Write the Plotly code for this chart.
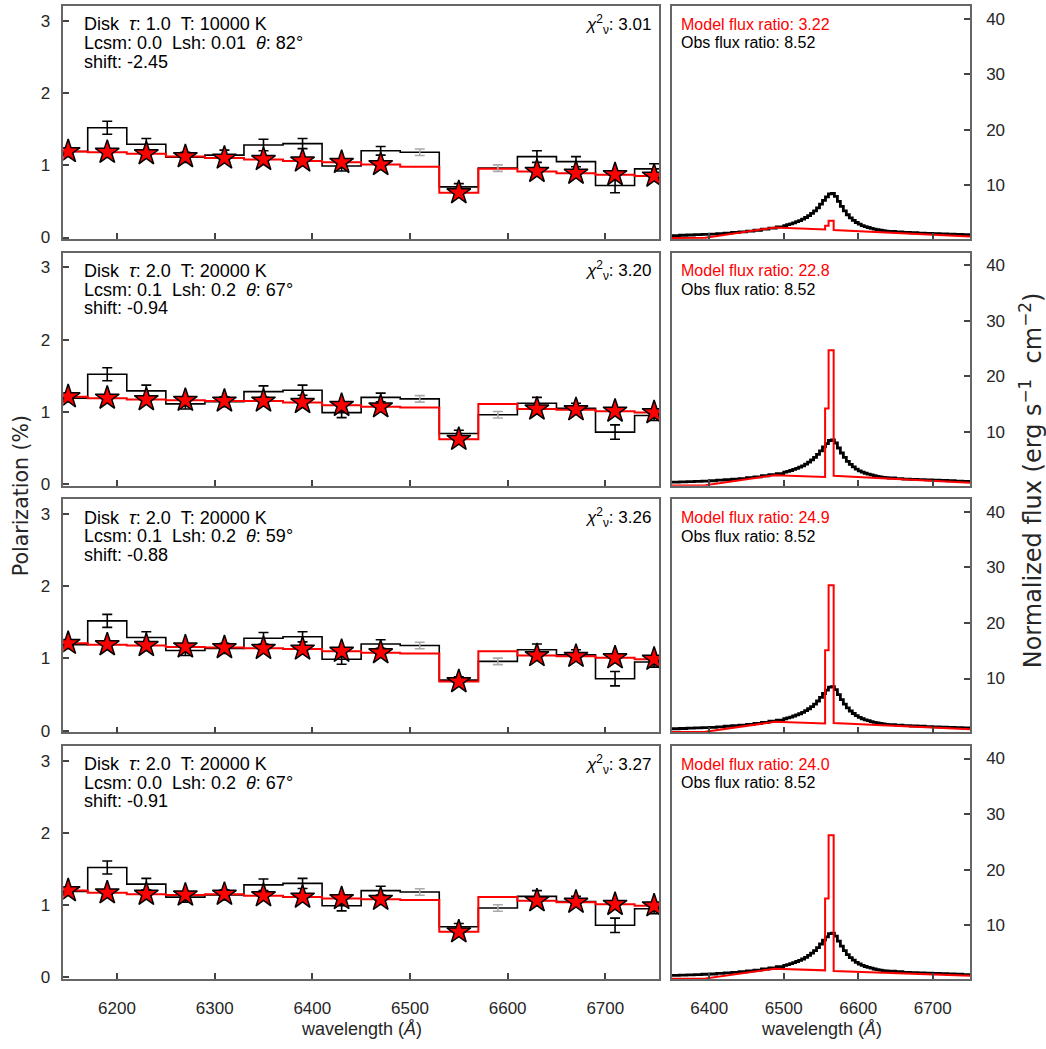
import plotly.graph_objects as go

W, H = 1046, 1049

# ---------------- data ----------------
pol_wl = [6150, 6190, 6230, 6270, 6310, 6350, 6390, 6430, 6470, 6510, 6550, 6590, 6630, 6670, 6710, 6750]
obs_pol = [1.19, 1.52, 1.29, 1.11, 1.14, 1.28, 1.30, 0.99, 1.20, 1.18, 0.70, 0.96, 1.12, 1.05, 0.72, 0.95]
obs_err = [0.05, 0.09, 0.08, 0.07, 0.07, 0.08, 0.07, 0.07, 0.06, 0.045, 0.045, 0.045, 0.08, 0.07, 0.10, 0.07]
excluded_wl = [6510, 6590]

model_pol = [
    [1.19, 1.18, 1.16, 1.12, 1.10, 1.08, 1.06, 1.04, 1.01, 0.98, 0.62, 0.95, 0.915, 0.89, 0.87, 0.85],
    [1.21, 1.19, 1.17, 1.16, 1.15, 1.15, 1.13, 1.09, 1.07, 1.06, 0.62, 1.11, 1.04, 1.03, 1.01, 0.99],
    [1.21, 1.19, 1.18, 1.16, 1.15, 1.14, 1.13, 1.10, 1.08, 1.07, 0.68, 1.10, 1.04, 1.03, 1.01, 0.99],
    [1.20, 1.17, 1.15, 1.14, 1.15, 1.13, 1.11, 1.09, 1.08, 1.07, 0.63, 1.11, 1.06, 1.04, 1.01, 0.99],
]

obs_flux_wl = [6350, 6360, 6370, 6380, 6390, 6400, 6410, 6420, 6430, 6440, 6450, 6460, 6470, 6480, 6490,
               6500, 6504, 6508, 6512, 6516, 6520, 6524, 6528, 6532, 6536, 6540, 6544, 6548, 6552, 6556,
               6560, 6564, 6568, 6572, 6576, 6580, 6584, 6588, 6592, 6596, 6600, 6604, 6608, 6612, 6616,
               6620, 6624, 6628, 6632, 6636, 6640, 6650, 6660, 6670, 6680, 6690, 6700, 6710, 6720, 6730,
               6740, 6750]
obs_flux = [0.95, 1.0, 1.05, 1.1, 1.15, 1.2, 1.3, 1.4, 1.5, 1.6, 1.75, 1.9, 2.1, 2.3, 2.5,
            2.75, 2.9, 3.05, 3.25, 3.45, 3.65, 3.9, 4.2, 4.55, 4.95, 5.4, 5.95, 6.6, 7.3, 7.9,
            8.45, 8.55, 8.0, 7.1, 6.2, 5.4, 4.7, 4.15, 3.7, 3.3, 3.0, 2.75, 2.55, 2.4, 2.25,
            2.1, 2.0, 1.9, 1.82, 1.75, 1.7, 1.6, 1.5, 1.45, 1.4, 1.35, 1.3, 1.25, 1.2, 1.15,
            1.1, 1.05]

model_flux_wl = [6350, 6395, 6488, 6555.5, 6555.5, 6560.2, 6560.2, 6567, 6567, 6750]
model_flux = [
    [0.5, 0.55, 2.4, 2.05, 2.7, 2.7, 3.6, 3.6, 1.95, 0.8],
    [0.35, 0.4, 2.2, 1.9, 14.2, 14.2, 24.7, 24.7, 2.1, 0.85],
    [0.35, 0.4, 2.2, 1.9, 15.1, 15.1, 26.8, 26.8, 2.0, 0.85],
    [0.35, 0.4, 2.15, 1.85, 14.8, 14.8, 26.2, 26.2, 1.75, 0.9],
]

panel_tau = ["1.0", "2.0", "2.0", "2.0"]
panel_T = ["10000", "20000", "20000", "20000"]
panel_lcsm = ["0.0", "0.1", "0.1", "0.0"]
panel_lsh = ["0.01", "0.2", "0.2", "0.2"]
panel_theta = ["82", "67", "59", "67"]
panel_shift = ["-2.45", "-0.94", "-0.88", "-0.91"]
panel_chi2 = ["3.01", "3.20", "3.26", "3.27"]
model_ratio = ["3.22", "22.8", "24.9", "24.0"]
obs_ratio = ["8.52", "8.52", "8.52", "8.52"]

pol_ticks = [6200, 6300, 6400, 6500, 6600, 6700]
flux_ticks = [6400, 6500, 6600, 6700]
pol_yticks = [0, 1, 2, 3]
flux_yticks = [10, 20, 30, 40]

# ---------------- layout geometry (pixels) ----------------
L_LEFT, L_RIGHT = 63.3, 659.0
R_LEFT, R_RIGHT = 672.0, 970.0
TOPS = [6.0, 254.5, 503.0, 751.5]
PH = 235.0
FONT = "Liberation Sans, Arial, sans-serif"
TFONT = "DejaVu Sans, sans-serif"
FRAME = "#666666"
TXT = "#262626"
NB = "\u00a0"
SP2 = NB * 2

fig = go.Figure()
layout = {}
annotations = []

half = 20  # half bin width of polarization bins
pol_edges = [w - half for w in pol_wl] + [pol_wl[-1] + half]


def ax_id(n):
    return "" if n == 1 else str(n)


def dom_y(top_px, py):
    """pixel y within the panel -> y-domain fraction"""
    return 1 - (py - top_px) / PH


for i in range(4):
    nl, nr = ax_id(2 * i + 1), ax_id(2 * i + 2)
    xl, yl = "x" + nl, "y" + nl
    xr, yr = "x" + nr, "y" + nr
    top = TOPS[i]
    ydom = [1 - (top + PH) / H, 1 - top / H]

    # observed polarization step
    fig.add_trace(go.Scatter(x=pol_edges, y=obs_pol + [obs_pol[-1]], mode="lines",
                             line=dict(color="black", width=1.6, shape="hv"),
                             xaxis=xl, yaxis=yl, showlegend=False, hoverinfo="skip"))
    # model step
    mp = model_pol[i]
    fig.add_trace(go.Scatter(x=pol_edges, y=mp + [mp[-1]], mode="lines",
                             line=dict(color="#ff0000", width=2, shape="hv"),
                             xaxis=xl, yaxis=yl, showlegend=False, hoverinfo="skip"))
    # error bars: included (black) and excluded (grey)
    inc = [k for k, w in enumerate(pol_wl) if w not in excluded_wl]
    exc = [k for k, w in enumerate(pol_wl) if w in excluded_wl]
    fig.add_trace(go.Scatter(x=[pol_wl[k] for k in inc], y=[obs_pol[k] for k in inc], mode="markers",
                             marker=dict(size=1, color="rgba(0,0,0,0)"),
                             error_y=dict(type="data", array=[obs_err[k] for k in inc], color="black",
                                          thickness=1.6, width=5),
                             xaxis=xl, yaxis=yl, showlegend=False, hoverinfo="skip"))
    fig.add_trace(go.Scatter(x=[pol_wl[k] for k in exc], y=[obs_pol[k] for k in exc], mode="markers",
                             marker=dict(size=1, color="rgba(0,0,0,0)"),
                             error_y=dict(type="data", array=[obs_err[k] for k in exc], color="#aaaaaa",
                                          thickness=1.6, width=5),
                             xaxis=xl, yaxis=yl, showlegend=False, hoverinfo="skip"))
    # model stars
    fig.add_trace(go.Scatter(x=[pol_wl[k] for k in inc], y=[mp[k] for k in inc], mode="markers",
                             marker=dict(symbol="star", size=18, color="#ff0000",
                                         line=dict(color="black", width=1.5)),
                             xaxis=xl, yaxis=yl, showlegend=False, hoverinfo="skip"))

    # flux panel
    fig.add_trace(go.Scatter(x=obs_flux_wl, y=obs_flux, mode="lines",
                             line=dict(color="black", width=2.8, shape="hv"),
                             xaxis=xr, yaxis=yr, showlegend=False, hoverinfo="skip"))
    fig.add_trace(go.Scatter(x=model_flux_wl, y=model_flux[i], mode="lines",
                             line=dict(color="#ff0000", width=2),
                             xaxis=xr, yaxis=yr, showlegend=False, hoverinfo="skip"))

    common = dict(showline=True, mirror=True, linecolor=FRAME, linewidth=1.5,
                  ticks="inside", ticklen=6, tickwidth=1.5, tickcolor="#444444",
                  showgrid=False, zeroline=False,
                  tickfont=dict(family=FONT, size=17, color=TXT))

    layout["xaxis" + nl] = dict(domain=[L_LEFT / W, L_RIGHT / W], anchor=yl, range=[6145, 6755],
                                tickvals=pol_ticks, showticklabels=(i == 3), ticklabelstandoff=13,
                                **common)
    layout["yaxis" + nl] = dict(domain=ydom, anchor=xl, range=[-0.023, 3.205],
                                tickvals=pol_yticks, ticklabelstandoff=8, **common)
    layout["xaxis" + nr] = dict(domain=[R_LEFT / W, R_RIGHT / W], anchor=yr, range=[6350, 6750],
                                tickvals=flux_ticks, showticklabels=(i == 3), ticklabelstandoff=13,
                                **common)
    layout["yaxis" + nr] = dict(domain=ydom, anchor=xr, range=[0.3, 42.3], side="right",
                                tickvals=flux_yticks, ticklabelstandoff=11, **common)

    # text annotations (left panel)
    xdl = (81.7 - L_LEFT) / (L_RIGHT - L_LEFT)
    lines = [
        f"Disk{SP2}<i>τ</i>: {panel_tau[i]}{SP2}T: {panel_T[i]} K",
        f"Lcsm: {panel_lcsm[i]}{SP2}Lsh: {panel_lsh[i]}{SP2}<i>θ</i>: {panel_theta[i]}°",
        f"shift: {panel_shift[i]}",
    ]
    for j, t in enumerate(lines):
        annotations.append(dict(text=t, xref=xl + " domain", yref=yl + " domain",
                                x=xdl, y=dom_y(top, top + 18.5 + 18.8 * j), xanchor="left", yanchor="middle",
                                showarrow=False, font=dict(family=FONT, size=18, color="black")))
    annotations.append(dict(text=f"<i>χ</i><sup>2</sup><sub>ν</sub>: {panel_chi2[i]}",
                            xref=xl + " domain", yref=yl + " domain",
                            x=(653 - L_LEFT) / (L_RIGHT - L_LEFT), y=dom_y(top, top + 18.5),
                            xanchor="right", yanchor="middle", showarrow=False,
                            font=dict(family=FONT, size=17, color="black")))
    # flux texts
    xdr = (679 - R_LEFT) / (R_RIGHT - R_LEFT)
    annotations.append(dict(text=f"Model flux ratio: {model_ratio[i]}", xref=xr + " domain", yref=yr + " domain",
                            x=xdr, y=dom_y(top, top + 18.5), xanchor="left", yanchor="middle",
                            showarrow=False, font=dict(family=FONT, size=16, color="#ff0000")))
    annotations.append(dict(text=f"Obs flux ratio: {obs_ratio[i]}", xref=xr + " domain", yref=yr + " domain",
                            x=xdr, y=dom_y(top, top + 37.3), xanchor="left", yanchor="middle",
                            showarrow=False, font=dict(family=FONT, size=16, color="black")))

# axis titles
annotations.append(dict(text="Polarization (%)", xref="paper", yref="paper", x=21 / W, y=1 - 500 / H,
                        textangle=-90, showarrow=False, xanchor="center", yanchor="middle",
                        font=dict(family=TFONT, size=20.5, color=TXT)))
annotations.append(dict(text=f"Normalized flux (erg{NB}s<sup>−1</sup>{NB}{NB}cm<sup>−2</sup>)",
                        xref="paper", yref="paper",
                        x=1031 / W, y=1 - 484 / H, textangle=-90, showarrow=False,
                        xanchor="center", yanchor="middle", font=dict(family=TFONT, size=24, color=TXT)))
for cx in [(L_LEFT + L_RIGHT) / 2, (R_LEFT + R_RIGHT) / 2]:
    annotations.append(dict(text="wavelength (<i>Å</i>)", xref="paper", yref="paper", x=cx / W, y=1 - 1037 / H,
                            showarrow=False, xanchor="center", yanchor="middle",
                            font=dict(family=FONT, size=18, color=TXT)))

fig.update_layout(width=W, height=H, margin=dict(l=0, r=0, t=0, b=0),
                  paper_bgcolor="white", plot_bgcolor="white",
                  annotations=annotations, **layout)

fig.write_html("out.html")
